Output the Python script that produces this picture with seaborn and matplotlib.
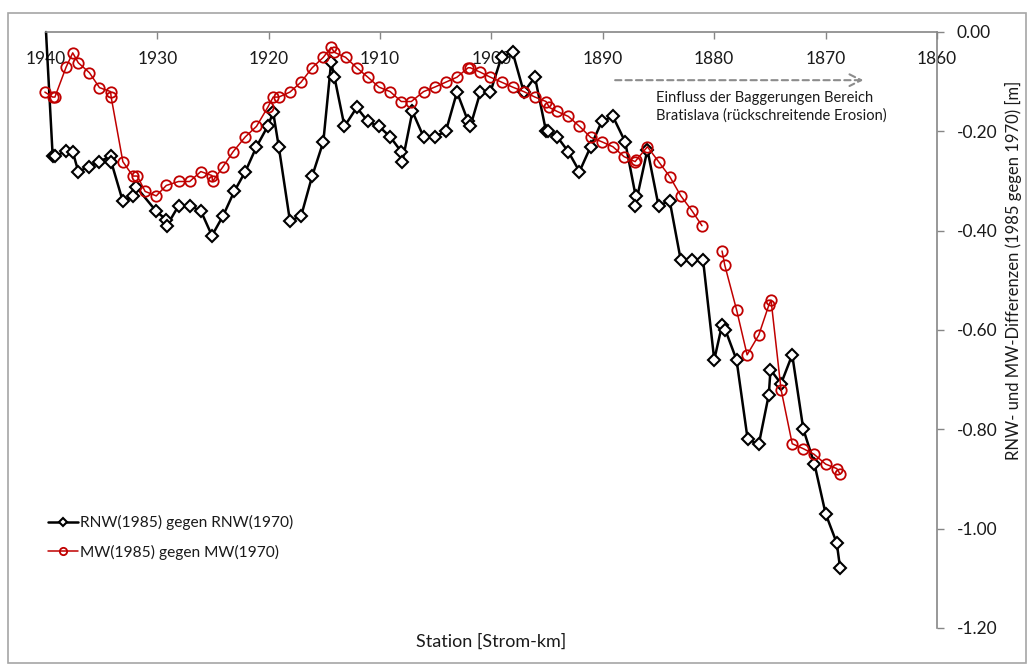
import numpy as np
import pandas as pd
import matplotlib
matplotlib.use("Agg")
import matplotlib.pyplot as plt
from matplotlib.patches import Rectangle
import seaborn as sns

# Danube stations (Strom-km) and water level differences 1985 vs. 1970 [m]
km_rnw = [1940.0, 1939.4, 1939.2, 1938.2, 1937.6, 1937.1, 1936.1, 1935.2, 1934.2, 1934.15,
          1933.1, 1932.2, 1931.9, 1930.1, 1929.2, 1929.15, 1928.1, 1927.1, 1926.1, 1925.1,
          1924.1, 1923.1, 1922.1, 1921.1, 1920.1, 1919.6, 1919.1, 1918.1, 1917.1, 1916.1,
          1915.1, 1914.4, 1914.1, 1913.2, 1912.1, 1911.1, 1910.1, 1909.1, 1908.1, 1908.0,
          1907.1, 1906.1, 1905.1, 1904.1, 1903.1, 1902.1, 1901.9, 1901.0, 1900.1, 1899.1,
          1898.1, 1897.1, 1896.1, 1895.1, 1894.9, 1894.1, 1893.1, 1892.1, 1891.1, 1890.1,
          1889.1, 1888.0, 1887.05, 1887.1, 1886.0, 1885.0, 1884.0, 1883.0, 1882.0, 1881.0,
          1880.0, 1879.3, 1879.0, 1878.0, 1877.0, 1876.0, 1875.1, 1874.95, 1874.0, 1873.0,
          1872.0, 1871.0, 1870.0, 1869.0, 1868.7]
rnw = [0.00, -0.250, -0.250, -0.240, -0.241, -0.281, -0.271, -0.261, -0.250, -0.261,
       -0.341, -0.331, -0.312, -0.361, -0.378, -0.390, -0.350, -0.350, -0.360, -0.410,
       -0.370, -0.321, -0.281, -0.231, -0.190, -0.162, -0.231, -0.380, -0.371, -0.290,
       -0.221, -0.061, -0.091, -0.190, -0.152, -0.180, -0.190, -0.211, -0.241, -0.261,
       -0.160, -0.211, -0.211, -0.200, -0.121, -0.180, -0.190, -0.121, -0.121, -0.050,
       -0.041, -0.121, -0.091, -0.200, -0.200, -0.211, -0.241, -0.281, -0.231, -0.180,
       -0.170, -0.221, -0.331, -0.351, -0.237, -0.350, -0.340, -0.460, -0.460, -0.460,
       -0.660, -0.590, -0.600, -0.660, -0.820, -0.830, -0.730, -0.680, -0.708, -0.650,
       -0.800, -0.870, -0.970, -1.029, -1.079]

km_mw = [1940.1, 1939.4, 1939.2, 1938.2, 1937.6, 1937.1, 1936.1, 1935.2, 1934.2, 1934.15,
         1933.1, 1932.2, 1931.8, 1931.1, 1930.1, 1929.2, 1928.1, 1927.1, 1926.1, 1925.1,
         1925.05, 1924.1, 1923.2, 1922.1, 1921.1, 1920.1, 1919.6, 1919.1, 1918.1, 1917.1,
         1916.1, 1915.1, 1914.4, 1914.1, 1913.1, 1912.1, 1911.1, 1910.1, 1909.1, 1908.1,
         1907.2, 1906.1, 1905.1, 1904.1, 1903.1, 1902.1, 1901.9, 1901.0, 1900.1, 1899.1,
         1898.1, 1897.1, 1896.1, 1895.1, 1894.8, 1894.1, 1893.1, 1892.1, 1891.1, 1890.1,
         1889.1, 1888.1, 1887.1, 1887.0, 1886.0, 1885.0, 1884.0, 1883.0, 1882.0, 1881.1,
         1880.0, 1879.3, 1879.05, 1878.0, 1877.05, 1876.0, 1875.1, 1874.9, 1874.0, 1873.0,
         1872.0, 1871.05, 1870.0, 1869.0, 1868.7]
mw = [-0.121, -0.131, -0.131, -0.071, -0.042, -0.062, -0.082, -0.112, -0.120, -0.131,
      -0.261, -0.290, -0.290, -0.321, -0.330, -0.309, -0.301, -0.301, -0.281, -0.289,
      -0.301, -0.271, -0.241, -0.211, -0.190, -0.152, -0.131, -0.131, -0.121, -0.101,
      -0.072, -0.051, -0.031, -0.041, -0.051, -0.072, -0.091, -0.111, -0.120, -0.140,
      -0.140, -0.120, -0.111, -0.101, -0.091, -0.072, -0.072, -0.081, -0.091, -0.101,
      -0.111, -0.120, -0.131, -0.140, -0.152, -0.160, -0.170, -0.190, -0.212, -0.221,
      -0.231, -0.251, -0.261, -0.258, -0.231, -0.261, -0.291, -0.330, -0.360, -0.390,
      np.nan, -0.441, -0.470, -0.559, -0.650, -0.610, -0.550, -0.540, -0.720, -0.829,
      -0.839, -0.850, -0.870, -0.879, -0.890]

x_ticks = [1940, 1930, 1920, 1910, 1900, 1890, 1880, 1870, 1860]
y_ticks = [0.0, -0.2, -0.4, -0.6, -0.8, -1.0, -1.2]

label_rnw = "RNW(1985) gegen RNW(1970)"
label_mw = "MW(1985) gegen MW(1970)"
x_title = "Station [Strom-km]"
y_title = "RNW- und MW-Differenzen (1985 gegen 1970) [m]"
note = "Einfluss der Baggerungen Bereich\nBratislava (rückschreitende Erosion)"

sns.set_theme(style="white")
plt.rcParams["font.family"] = ["Lato", "DejaVu Sans"]

GREY = "#868686"
TXT = "#1a1a1a"
RED = "#C00000"

W, H = 1029, 665
fig = plt.figure(figsize=(W / 100, H / 100), dpi=100)
ax = fig.add_axes([46 / W, 1 - 628 / H, 891 / W, 596 / H])
ax.set_facecolor("white")


def segments(km, vals):
    """Split a series at missing values so gaps stay open."""
    df = pd.DataFrame({"km": km, "val": vals})
    df["seg"] = df["val"].isna().cumsum()
    return df.dropna()


rnw_df = segments(km_rnw, rnw)
mw_df = segments(km_mw, mw)

sns.lineplot(data=rnw_df, x="km", y="val", units="seg", estimator=None, sort=False,
             color="black", lw=1.8, marker="D", ms=6, mfc="white", mec="black", mew=1.5,
             markevery=slice(1, None), clip_on=False, label=label_rnw, ax=ax)
sns.lineplot(data=mw_df, x="km", y="val", units="seg", estimator=None, sort=False,
             color=RED, lw=1.1, marker="o", ms=7.5, mfc="none", mec=RED, mew=1.3,
             clip_on=False, label=label_mw, ax=ax)

ax.set_xlim(1940, 1860)
ax.set_ylim(-1.2, 0.0)

# x axis sits on the zero line at the top, labels hang inside the plot
ax.set_xticks(x_ticks)
ax.set_xticklabels([str(t) for t in x_ticks])
ax.xaxis.set_ticks_position("top")
ax.tick_params(axis="x", top=True, bottom=False, labeltop=True, labelbottom=False,
               direction="in", length=5, width=1, color=GREY, pad=-25,
               labelsize=12.5, labelcolor=TXT)

ax.set_yticks(y_ticks)
ax.set_yticklabels([f"{t:.2f}" if t != 0 else "0.00" for t in y_ticks])
ax.yaxis.tick_right()
ax.tick_params(axis="y", right=True, left=False, direction="out", length=5, width=1,
               color=GREY, pad=9, labelsize=12.5, labelcolor=TXT)

for side in ("left", "bottom"):
    ax.spines[side].set_visible(False)
for side in ("top", "right"):
    ax.spines[side].set_visible(True)
    ax.spines[side].set_color(GREY)
    ax.spines[side].set_linewidth(1.2)

ax.set_xlabel(x_title, fontsize=13, color=TXT)
ax.xaxis.set_label_position("bottom")
ax.xaxis.set_label_coords(0.5, -0.01)
ax.set_ylabel(y_title, fontsize=12, color=TXT)
ax.yaxis.set_label_position("right")
ax.yaxis.set_label_coords(1.076, 0.60)

# dredging influence near Bratislava
ax.annotate("", xy=(1866.6, -0.097), xytext=(1888.9, -0.097),
            arrowprops=dict(arrowstyle="->,head_length=0.7,head_width=0.35",
                            color="#8c8c8c", lw=1.5, linestyle=(0, (3, 2)),
                            shrinkA=0, shrinkB=0))
ax.text(1885.25, -0.119, note, fontsize=10.5, color=TXT, va="top", ha="left",
        linespacing=1.25)

handles, labels = ax.get_legend_handles_labels()
uniq = dict(zip(labels, handles))
ax.legend(list(uniq.values()), list(uniq.keys()), loc="upper left",
          bbox_to_anchor=(48 / W, 1 - 515 / H), bbox_transform=fig.transFigure,
          frameon=False, fontsize=11.2, borderpad=0, borderaxespad=0,
          handlelength=1.9, handletextpad=0.15, labelspacing=0.95,
          markerscale=0.7, numpoints=1, labelcolor=TXT)

fig.patches.append(Rectangle((8 / W, 2 / H), 1018 / W, 650 / H, transform=fig.transFigure,
                             fill=False, edgecolor="#a6a6a6", lw=1.2))

fig.savefig("out.png", dpi=100, facecolor="white")
